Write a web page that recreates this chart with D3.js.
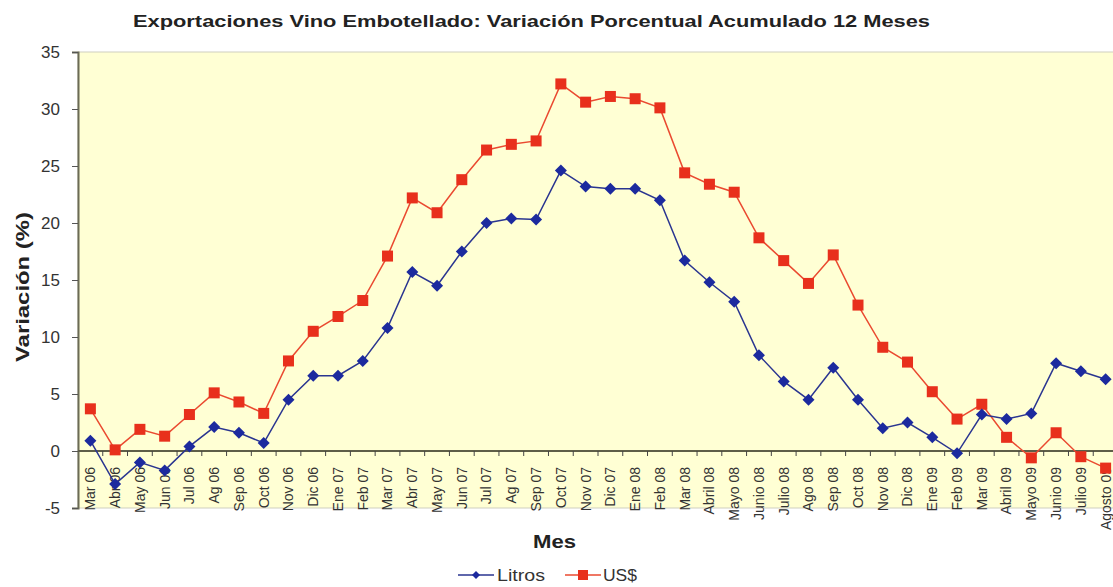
<!DOCTYPE html>
<html><head><meta charset="utf-8">
<script src="https://cdn.jsdelivr.net/npm/d3@7"></script>
<style>body{margin:0;background:#fff;}svg{display:block;font-family:"Liberation Sans",Arial,sans-serif;}</style>
</head><body>
<svg id="c" width="1113" height="587"></svg>
<script>
const months = ["Mar 06","Abr 06","May 06","Jun 06","Jul 06","Ag 06","Sep 06","Oct 06","Nov 06","Dic 06",
"Ene 07","Feb 07","Mar 07","Abr 07","May 07","Jun 07","Jul 07","Ag 07","Sep 07","Oct 07","Nov 07","Dic 07",
"Ene 08","Feb 08","Mar 08","Abril 08","Mayo 08","Junio 08","Julio 08","Ago 08","Sep 08","Oct 08","Nov 08","Dic 08",
"Ene 09","Feb 09","Mar 09","Abril 09","Mayo 09","Junio 09","Julio 09","Agosto 09"];
const litros = [0.9,-2.9,-1.0,-1.7,0.4,2.1,1.6,0.7,4.5,6.6,
6.6,7.9,10.8,15.7,14.5,17.5,20.0,20.4,20.3,24.6,23.2,23.0,
23.0,22.0,16.7,14.8,13.1,8.4,6.1,4.5,7.3,4.5,2.0,2.5,
1.2,-0.2,3.2,2.8,3.3,7.7,7.0,6.3];
const usd = [3.7,0.1,1.9,1.3,3.2,5.1,4.3,3.3,7.9,10.5,
11.8,13.2,17.1,22.2,20.9,23.8,26.4,26.9,27.2,32.2,30.6,31.1,
30.9,30.1,24.4,23.4,22.7,18.7,16.7,14.7,17.2,12.8,9.1,7.8,
5.2,2.8,4.1,1.2,-0.6,1.6,-0.5,-1.5];
const yTicks = [-5,0,5,10,15,20,25,30,35];

(function(){
const svg = d3.select("#c");
const pL = 78, pT = 52, pB = 508, pR = 1118;
const x = d3.scaleBand().domain(months).range([pL, pR]).padding(0);
const y = d3.scaleLinear().domain([-5, 35]).range([pB, pT]);
const cx = d => x(d) + x.bandwidth()/2;

svg.append("rect").attr("x", pL).attr("y", pT).attr("width", pR-pL).attr("height", pB-pT)
  .attr("fill", "#ffffd4").attr("stroke", "#cfcfbf").attr("stroke-width", 1);

svg.append("text").attr("x", 133).attr("y", 27)
  .attr("font-size", 16.5).attr("font-weight","bold").attr("fill","#222")
  .attr("textLength", 797).attr("lengthAdjust","spacingAndGlyphs")
  .text("Exportaciones Vino Embotellado: Variación Porcentual Acumulado 12 Meses");

const yAxis = svg.append("g").attr("transform", `translate(${pL},0)`)
  .call(d3.axisLeft(y).tickValues(yTicks).tickFormat(d => String(d)).tickSize(6).tickPadding(12));
yAxis.select(".domain").attr("stroke","#6b6b55").attr("stroke-width",2);
yAxis.selectAll(".tick line").attr("stroke","#555");
yAxis.selectAll("text").attr("font-size",17).attr("fill","#333").attr("font-family","Liberation Sans, Arial, sans-serif");

svg.append("text").attr("transform","translate(29,287) rotate(-90)").attr("text-anchor","middle")
  .attr("font-size",18).attr("font-weight","bold").attr("fill","#222")
  .attr("textLength",150).attr("lengthAdjust","spacingAndGlyphs").text("Variación (%)");

const xAxis = svg.append("g").attr("transform", `translate(0,${y(0)})`)
  .call(d3.axisBottom(x).tickSize(0).tickPadding(0));
xAxis.select(".domain").remove();
xAxis.append("line").attr("x1", pL).attr("x2", pR).attr("y1",0).attr("y2",0)
  .attr("stroke","#5e5e48").attr("stroke-width",2);
xAxis.selectAll(".tick text").attr("transform","rotate(-90)").attr("text-anchor","end")
  .attr("x",-16).attr("y",0).attr("dy","0.35em").attr("font-size",14).attr("fill","#333")
  .attr("font-family","Liberation Sans, Arial, sans-serif");
xAxis.selectAll(".bt").data(months.slice(1)).join("line").attr("class","bt")
  .attr("x1", d=>x(d)).attr("x2", d=>x(d)).attr("y1",0).attr("y2",5)
  .attr("stroke","#444").attr("stroke-width",1);

svg.append("text").attr("x",533).attr("y",548)
  .attr("font-size",18).attr("font-weight","bold").attr("fill","#222")
  .attr("textLength",43).attr("lengthAdjust","spacingAndGlyphs").text("Mes");

const blue = "#1c2a9e", red = "#e8301c";
const line = d3.line().x((d,i)=>cx(months[i])).y(d=>y(d));

svg.append("path").datum(usd).attr("d", line).attr("fill","none").attr("stroke","#ea4a30").attr("stroke-width",1.5);
svg.append("path").datum(litros).attr("d", line).attr("fill","none").attr("stroke","#2a3590").attr("stroke-width",1.5);

svg.selectAll(".sq").data(usd).join("rect").attr("class","sq")
  .attr("x",(d,i)=>cx(months[i])-5.5).attr("y",d=>y(d)-5.5).attr("width",11).attr("height",11)
  .attr("fill",red);
svg.selectAll(".dm").data(litros).join("path").attr("class","dm")
  .attr("transform",(d,i)=>`translate(${cx(months[i])},${y(d)})`)
  .attr("d","M0,-6L6,0L0,6L-6,0Z").attr("fill",blue);

const lg = svg.append("g");
lg.append("line").attr("x1",458).attr("x2",494).attr("y1",575).attr("y2",575).attr("stroke","#2a3590").attr("stroke-width",1.5);
lg.append("path").attr("transform","translate(476,575)").attr("d","M0,-4L4,0L0,4L-4,0Z").attr("fill",blue);
lg.append("text").attr("x",497).attr("y",581).attr("font-size",16).attr("fill","#333")
  .attr("textLength",48).attr("lengthAdjust","spacingAndGlyphs").text("Litros");
lg.append("line").attr("x1",565).attr("x2",601).attr("y1",575).attr("y2",575).attr("stroke","#ea4a30").attr("stroke-width",1.5);
lg.append("rect").attr("x",578).attr("y",570).attr("width",10).attr("height",10).attr("fill",red);
lg.append("text").attr("x",603).attr("y",581).attr("font-size",16).attr("fill","#333")
  .attr("textLength",34).attr("lengthAdjust","spacingAndGlyphs").text("US$");
})();
</script>
</body></html>
